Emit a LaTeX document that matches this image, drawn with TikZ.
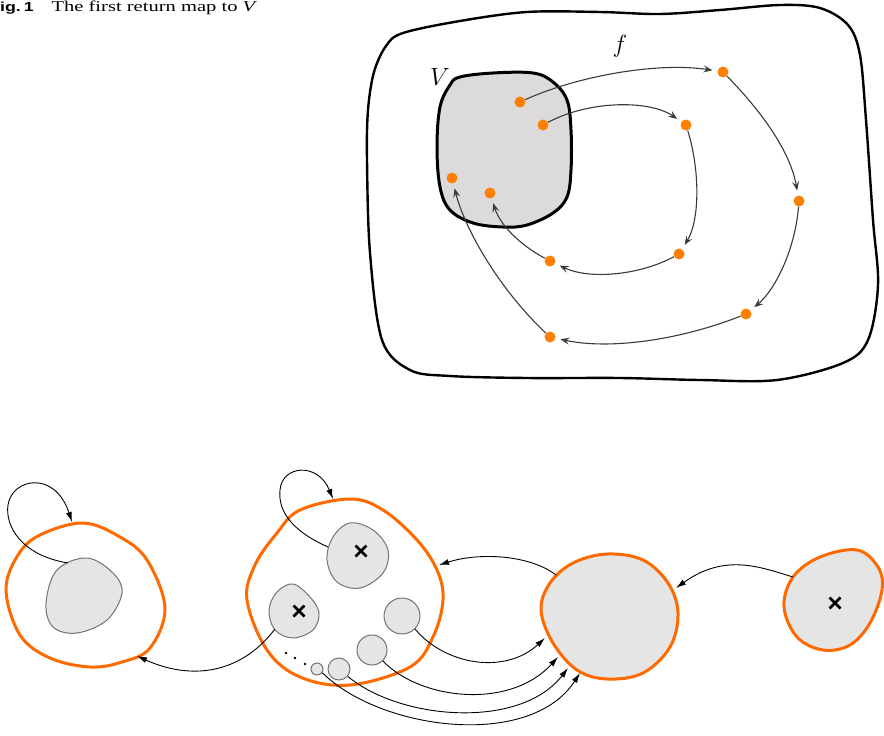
\documentclass[tikz,border=0pt]{standalone}
\usepackage{graphicx}
\usepackage{fontspec}
\setmainfont{Liberation Serif}
\newfontfamily\capsans{Liberation Sans}
\usetikzlibrary{arrows.meta}
\definecolor{dotor}{HTML}{FF8000}
\definecolor{bor}{HTML}{FF6A00}
\definecolor{vfill}{HTML}{DCDADB}
\definecolor{gfill}{HTML}{E5E5E5}
\definecolor{garr}{HTML}{3A3A3A}
\begin{document}
\begin{tikzpicture}[x=1pt,y=-1pt,
  orb/.style={circle,fill=dotor,inner sep=0pt,minimum size=11pt},
  farr/.style={draw=garr,line width=1.1pt,-{Stealth[length=9pt,width=7pt,inset=3.5pt]},shorten >=5pt},
  barr/.style={draw=black,line width=0.9pt,-{Latex[length=10pt,width=6pt]}},
  outerb/.style={draw=black,line width=2.4pt},
  vblob/.style={draw=black,line width=3pt,fill=vfill},
  orblob/.style={draw=bor,line width=3pt},
  inblob/.style={draw=gray!90!black,line width=1pt,fill=gfill},
  xmark/.style={line width=2.8pt,black}]
\useasboundingbox (0,0) rectangle (884,736);

% caption
\node[anchor=base west,inner sep=0pt] (cap) at (-11,12) {\scalebox{1.37}[1]{{\fontsize{13}{14}\selectfont\capsans\bfseries Fig.\,1}\hspace{13pt}{\fontsize{15}{16}\selectfont The first return map to \textit{V}}}};

% ---------- top figure ----------
\draw[outerb] plot[smooth cycle,tension=0.55] coordinates {(403,33) (460,21) (527,12) (600,12) (660,14) (720,10) (780,5) (820,8) (848,25) (860,55) (866,120) (873,220) (878,285) (868,340) (843,363) (777,380) (700,380) (620,378) (527,378) (450,376) (410,370) (382,340) (370,253) (367,160) (368,110) (374,72) (386,46)};
\draw[vblob] plot[smooth cycle,tension=0.6] coordinates {(460,77) (493,73) (533,73) (553,82) (567,100) (571,130) (571,170) (567,197) (553,213) (527,225) (503,227) (473,223) (450,210) (440,187) (437,147) (440,107) (450,85)};
\node (lV) at (440,77) {\fontsize{29}{30}\selectfont$V$};
\node (lf) at (620,46) {\fontsize{29}{30}\selectfont$f$};

\node[orb] (p1) at (520,102) {};
\node[orb] (p2) at (543,125) {};
\node[orb] (p3) at (452,178) {};
\node[orb] (p4) at (490,193) {};
\node[orb] (p5) at (723,72) {};
\node[orb] (p6) at (686,125) {};
\node[orb] (p7) at (799,201) {};
\node[orb] (p8) at (679,254) {};
\node[orb] (p9) at (550,261) {};
\node[orb] (p10) at (746,314) {};
\node[orb] (p11) at (550,337) {};

\draw[farr] (p1) .. controls (580,75) and (660,62) .. (p5);
\draw[farr] (p5) .. controls (760,110) and (790,150) .. (p7);
\draw[farr] (p7) .. controls (795,250) and (775,290) .. (p10);
\draw[farr] (p10) .. controls (680,340) and (610,350) .. (p11);
\draw[farr] (p11) .. controls (500,290) and (465,230) .. (p3);
\draw[farr] (p2) .. controls (590,100) and (650,100) .. (p6);
\draw[farr] (p6) .. controls (700,170) and (700,220) .. (p8);
\draw[farr] (p8) .. controls (640,275) and (590,280) .. (p9);
\draw[farr] (p9) .. controls (520,245) and (500,225) .. (p4);

% ---------- bottom figure ----------
% blob A
\draw[orblob] plot[smooth cycle,tension=0.6] coordinates {(6,590) (18,555) (40,535) (83,523) (120,537) (147,560) (165,608) (150,648) (122,662) (90,667) (50,658) (20,635)};
\draw[inblob] plot[smooth cycle,tension=0.6] coordinates {(46,603) (57,570) (87,558) (113,573) (122,593) (107,620) (77,633) (53,627)};
% blob B
\draw[orblob] plot[smooth cycle,tension=0.6] coordinates {(247,600) (255,565) (277,533) (300,510) (350,499) (383,510) (417,540) (437,570) (443,600) (433,637) (410,667) (350,685) (300,677) (267,650)};
\draw[inblob] plot[smooth cycle,tension=0.6] coordinates {(327,560) (333,537) (350,523) (373,530) (388,550) (383,573) (360,588) (337,582)};
\draw[inblob] plot[smooth cycle,tension=0.6] coordinates {(269,610) (277,592) (293,584) (310,597) (319,613) (313,630) (293,638) (275,630)};
\node[circle,inblob,minimum size=36pt,inner sep=0pt] (c1) at (402,616) {};
\node[circle,inblob,minimum size=30pt,inner sep=0pt] (c2) at (372,650) {};
\node[circle,inblob,minimum size=22pt,inner sep=0pt] (c3) at (339,669) {};
\node[circle,inblob,minimum size=12pt,inner sep=0pt] (c4) at (317,669) {};
\fill (286,653) circle (1.4pt) (295,658) circle (1.4pt) (305,664) circle (1.4pt);
% blob C
\draw[orblob,fill=gfill] plot[smooth cycle,tension=0.6] coordinates {(541,610) (550,583) (573,563) (607,554) (643,560) (668,583) (678,613) (670,647) (643,673) (607,679) (577,670) (553,643)};
% blob D
\draw[orblob,fill=gfill] plot[smooth cycle,tension=0.6] coordinates {(784,607) (793,577) (820,557) (857,550) (878,567) (882,590) (870,623) (850,645) (823,650) (797,637)};

% x marks
\foreach \cx/\cy in {361/551, 299/611, 835/603}{
  \draw[xmark] (\cx-5.5,\cy-5.5) -- (\cx+5.5,\cy+5.5) (\cx-5.5,\cy+5.5) -- (\cx+5.5,\cy-5.5);
}

% connection coordinates
\coordinate (aS) at (68,563);
\coordinate (aE) at (72,522);
\coordinate (aIn) at (137,656);
\coordinate (bS) at (328,547);
\coordinate (bE) at (333,499);
\coordinate (b2S) at (275,629);
\coordinate (bIn) at (439,565);
\coordinate (cOut) at (556,575);
\coordinate (cIn) at (676,588);
\coordinate (dOut) at (793,577);
\coordinate (cA) at (545,638);
\coordinate (cB) at (558,657);
\coordinate (cC) at (568,668);
\coordinate (cD) at (580,673);

\draw[barr] (aS) .. controls (20,555) and (5,525) .. (8,505) .. controls (12,478) and (55,470) .. (aE);
\draw[barr] (bS) .. controls (290,530) and (278,510) .. (280,490) .. controls (282,465) and (318,462) .. (bE);
\draw[barr] (b2S) .. controls (240,675) and (190,680) .. (aIn);
\draw[barr] (cOut) .. controls (530,555) and (480,552) .. (bIn);
\draw[barr] (dOut) .. controls (760,567) and (725,553) .. (cIn);
\draw[barr] (c1.-45) .. controls (445,665) and (505,675) .. (cA);
\draw[barr] (c2.-45) .. controls (420,700) and (510,710) .. (cB);
\draw[barr] (c3.-40) .. controls (400,720) and (520,730) .. (cC);
\draw[barr] (c4.-35) .. controls (380,730) and (530,750) .. (cD);
\end{tikzpicture}
\end{document}
